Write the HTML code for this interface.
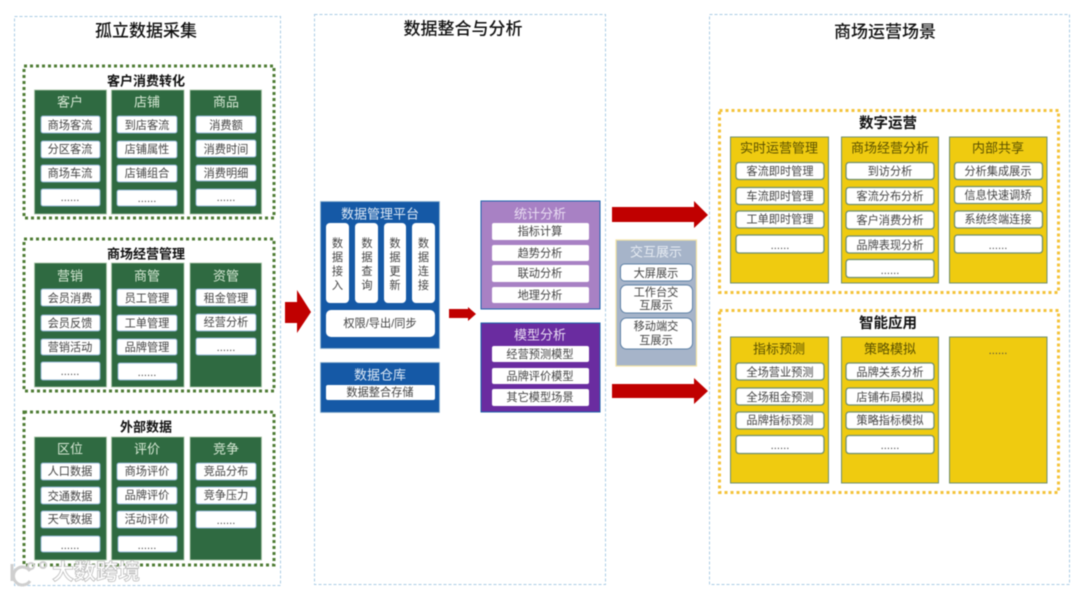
<!DOCTYPE html>
<html lang="zh">
<head>
<meta charset="utf-8">
<title>商场数据架构</title>
<style>
html,body{margin:0;padding:0;background:#fff;width:1080px;height:592px;overflow:hidden}
svg{display:block;filter:blur(.5px)}
text{font-family:"Liberation Sans","Noto Sans CJK SC",sans-serif;text-anchor:middle;dominant-baseline:central;transform:translateY(1px)}
.panel{fill:#fff;stroke:#a9cbe4;stroke-width:1;stroke-dasharray:3 2}
.h1{font-size:17px;fill:#111;font-weight:500}
.h2{font-size:13px;fill:#111;font-weight:700}
.h3{font-size:14.5px;fill:#111;font-weight:700}
.gd{fill:#fff;stroke:#4f7d35;stroke-width:3;stroke-dasharray:3 3}
.yd{fill:#fff;stroke:#f4c33c;stroke-width:3;stroke-dasharray:3 3}
.g{fill:#2f6a41;stroke:#a9c6a6;stroke-width:.8}
.gt{font-size:13px;fill:#d6e8d4}
.wg{fill:#fff;stroke:#8fb3d0;stroke-width:1}
.t{font-size:11.2px;fill:#444}
.y{fill:#efcb10;stroke:#6f8f70;stroke-width:1}
.yt{font-size:13px;fill:#5c5200}
.wy{fill:#fff;stroke:#6f8f70;stroke-width:1.3}
.bl{fill:#1559a6;stroke:#8fb3d0;stroke-width:.8}
.lt{font-size:13px;fill:#dce8f5}
.w{fill:#fff}
.a{fill:#c00000}
</style>
</head>
<body>
<svg width="1080" height="592" viewBox="0 0 1080 592" xmlns="http://www.w3.org/2000/svg">
<rect x="14.5" y="16.5" width="266" height="569" class="panel"/>
<rect x="314.5" y="14.5" width="291" height="570" class="panel"/>
<rect x="709.5" y="14.5" width="360" height="570" class="panel"/>
<text x="146" y="30" class="h1">孤立数据采集</text>
<text x="463" y="28" class="h1">数据整合与分析</text>
<text x="885" y="31" class="h1">商场运营场景</text>

<!-- Box 1 -->
<rect x="24" y="66" width="250" height="152" class="gd"/>
<text x="146" y="80" class="h2">客户消费转化</text>
<rect x="34.500" y="90" width="72" height="124" class="g"/>
<rect x="111.500" y="90" width="72.500" height="124" class="g"/>
<rect x="190" y="90" width="71.500" height="124" class="g"/>
<text x="70" y="101" class="gt">客户</text><text x="147" y="101" class="gt">店铺</text><text x="226" y="101" class="gt">商品</text>
<rect x="41" y="116" width="59" height="17" rx="2" class="wg"/><text x="70" y="125" class="t">商场客流</text>
<rect x="41" y="141" width="59" height="17" rx="2" class="wg"/><text x="70" y="149" class="t">分区客流</text>
<rect x="41" y="165" width="59" height="17" rx="2" class="wg"/><text x="70" y="173" class="t">商场车流</text>
<rect x="41" y="189" width="59" height="17" rx="2" class="wg"/><text x="70" y="197" class="t">......</text>
<rect x="117" y="116" width="60" height="17" rx="2" class="wg"/><text x="147" y="125" class="t">到店客流</text>
<rect x="117" y="141" width="60" height="17" rx="2" class="wg"/><text x="147" y="149" class="t">店铺属性</text>
<rect x="117" y="165" width="60" height="17" rx="2" class="wg"/><text x="147" y="173" class="t">店铺组合</text>
<rect x="117" y="190" width="60" height="16" rx="2" class="wg"/><text x="147" y="198" class="t">......</text>
<rect x="196" y="116" width="60" height="17" rx="2" class="wg"/><text x="226" y="125" class="t">消费额</text>
<rect x="196" y="140" width="60" height="17" rx="2" class="wg"/><text x="226" y="149" class="t">消费时间</text>
<rect x="196" y="165" width="60" height="16" rx="2" class="wg"/><text x="226" y="173" class="t">消费明细</text>
<rect x="196" y="189" width="60" height="17" rx="2" class="wg"/><text x="226" y="197" class="t">......</text>

<!-- Box 2 -->
<rect x="24" y="239" width="250" height="152" class="gd"/>
<text x="146" y="253" class="h2">商场经营管理</text>
<rect x="34.500" y="263" width="72" height="124" class="g"/>
<rect x="111.500" y="263" width="72.500" height="124" class="g"/>
<rect x="190" y="263" width="71.500" height="124" class="g"/>
<text x="70" y="275" class="gt">营销</text><text x="147" y="275" class="gt">商管</text><text x="226" y="275" class="gt">资管</text>
<rect x="41" y="289" width="59" height="17" rx="2" class="wg"/><text x="70" y="298" class="t">会员消费</text>
<rect x="41" y="315" width="59" height="16" rx="2" class="wg"/><text x="70" y="323" class="t">会员反馈</text>
<rect x="41" y="339" width="59" height="16" rx="2" class="wg"/><text x="70" y="347" class="t">营销活动</text>
<rect x="41" y="362" width="59" height="18" rx="2" class="wg"/><text x="70" y="371" class="t">......</text>
<rect x="117" y="289" width="60" height="17" rx="2" class="wg"/><text x="147" y="298" class="t">员工管理</text>
<rect x="117" y="315" width="60" height="16" rx="2" class="wg"/><text x="147" y="323" class="t">工单管理</text>
<rect x="117" y="339" width="60" height="16" rx="2" class="wg"/><text x="147" y="347" class="t">品牌管理</text>
<rect x="118" y="363" width="59" height="17" rx="2" class="wg"/><text x="147" y="372" class="t">......</text>
<rect x="196" y="289" width="60" height="17" rx="2" class="wg"/><text x="226" y="298" class="t">租金管理</text>
<rect x="196" y="314" width="60" height="17" rx="2" class="wg"/><text x="226" y="322" class="t">经营分析</text>
<rect x="196" y="338" width="60" height="17" rx="2" class="wg"/><text x="226" y="347" class="t">......</text>

<!-- Box 3 -->
<rect x="24" y="412" width="250" height="153" class="gd"/>
<text x="146" y="426" class="h2">外部数据</text>
<rect x="34.500" y="437" width="72" height="123" class="g"/>
<rect x="111.500" y="437" width="72.500" height="123" class="g"/>
<rect x="190" y="437" width="71.500" height="123" class="g"/>
<text x="70" y="448" class="gt">区位</text><text x="147" y="448" class="gt">评价</text><text x="226" y="448" class="gt">竞争</text>
<rect x="41" y="463" width="59" height="17" rx="2" class="wg"/><text x="70" y="471" class="t">人口数据</text>
<rect x="41" y="487" width="59" height="17" rx="2" class="wg"/><text x="70" y="496" class="t">交通数据</text>
<rect x="41" y="511" width="59" height="17" rx="2" class="wg"/><text x="70" y="519" class="t">天气数据</text>
<rect x="41" y="536" width="59" height="16" rx="2" class="wg"/><text x="70" y="545" class="t">......</text>
<rect x="117" y="463" width="60" height="17" rx="2" class="wg"/><text x="147" y="471" class="t">商场评价</text>
<rect x="117" y="487" width="60" height="17" rx="2" class="wg"/><text x="147" y="495" class="t">品牌评价</text>
<rect x="117" y="511" width="60" height="17" rx="2" class="wg"/><text x="147" y="519" class="t">活动评价</text>
<rect x="118" y="536" width="59" height="16" rx="2" class="wg"/><text x="147" y="545" class="t">......</text>
<rect x="196" y="463" width="60" height="17" rx="2" class="wg"/><text x="226" y="471" class="t">竞品分布</text>
<rect x="196" y="487" width="60" height="17" rx="2" class="wg"/><text x="226" y="495" class="t">竞争压力</text>
<rect x="196" y="511" width="60" height="17" rx="2" class="wg"/><text x="226" y="520" class="t">......</text>

<!-- Arrows -->
<polygon class="a" points="285,302 297,302 297,290 311,312 297,333 297,323 285,323"/>
<polygon class="a" points="449,309 468,309 468,307 476,314 468,321 468,318 449,318"/>
<polygon class="a" points="612,207 694,207 694,201 708,215 694,228 694,222 612,222"/>
<polygon class="a" points="612,384 694,384 694,378 708,391 694,404 694,398 612,398"/>

<!-- Platform -->
<rect x="320.500" y="201.500" width="119" height="147" class="bl"/>
<text x="380" y="213" style="font-size:13px;fill:#dce8f5">数据管理平台</text>
<rect x="326" y="223" width="23" height="80" rx="4" class="w"/>
<rect x="355" y="223" width="23" height="80" rx="4" class="w"/>
<rect x="384" y="223" width="22" height="80" rx="4" class="w"/>
<rect x="412" y="223" width="23" height="80" rx="4" class="w"/>
<text class="t"><tspan x="337.500" y="243">数</tspan><tspan x="337.500" y="257">据</tspan><tspan x="337.500" y="271">接</tspan><tspan x="337.500" y="285">入</tspan></text>
<text class="t"><tspan x="367" y="243">数</tspan><tspan x="367" y="257">据</tspan><tspan x="367" y="271">查</tspan><tspan x="367" y="285">询</tspan></text>
<text class="t"><tspan x="395" y="243">数</tspan><tspan x="395" y="257">据</tspan><tspan x="395" y="271">更</tspan><tspan x="395" y="285">新</tspan></text>
<text class="t"><tspan x="423.500" y="243">数</tspan><tspan x="423.500" y="257">据</tspan><tspan x="423.500" y="271">连</tspan><tspan x="423.500" y="285">接</tspan></text>
<rect x="326" y="310" width="109" height="27" rx="5" class="w"/>
<text x="380" y="323" class="t">权限/导出/同步</text>
<rect x="320.500" y="362.500" width="119" height="50" class="bl"/>
<text x="380" y="374" class="lt">数据仓库</text>
<rect x="326" y="385" width="109" height="15" rx="2" class="w"/>
<text x="380" y="392" class="t">数据整合存储</text>

<!-- Analysis -->
<rect x="481" y="201" width="119" height="108" style="fill:#a881c4;stroke:#1f63ab;stroke-width:1"/>
<text x="540" y="213" style="font-size:13px;fill:#e8dcf2">统计分析</text>
<rect x="492" y="223" width="97" height="17" rx="2" class="w"/><text x="540" y="231" class="t">指标计算</text>
<rect x="492" y="245" width="97" height="16" rx="2" class="w"/><text x="540" y="253" class="t">趋势分析</text>
<rect x="492" y="265" width="97" height="17" rx="2" class="w"/><text x="540" y="273" class="t">联动分析</text>
<rect x="492" y="287" width="97" height="16" rx="2" class="w"/><text x="540" y="295" class="t">地理分析</text>
<rect x="481" y="323" width="119" height="89" style="fill:#6a2ca0;stroke:#1f63ab;stroke-width:1"/>
<text x="540" y="334" style="font-size:13px;fill:#e8dcf2">模型分析</text>
<rect x="492" y="346" width="97" height="16" rx="2" class="w"/><text x="540" y="354" class="t">经营预测模型</text>
<rect x="492" y="368" width="97" height="16" rx="2" class="w"/><text x="540" y="376" class="t">品牌评价模型</text>
<rect x="492" y="389" width="97" height="17" rx="2" class="w"/><text x="540" y="397" class="t">其它模型场景</text>

<!-- Interaction -->
<rect x="616" y="240" width="80.500" height="126" style="fill:#a6b4c9;stroke:#f3e3a4;stroke-width:1.2"/>
<text x="656" y="251" style="font-size:13px;fill:#e6ebf2">交互展示</text>
<rect x="620.500" y="264" width="72" height="17" rx="4" style="fill:#fff;stroke:#5e81a6;stroke-width:1"/>
<text x="656" y="273" class="t">大屏展示</text>
<rect x="620.500" y="285" width="72" height="28" rx="6" style="fill:#fff;stroke:#5e81a6;stroke-width:1"/>
<text x="656" y="292" class="t">工作台交</text><text x="656" y="305" class="t">互展示</text>
<rect x="620.500" y="318" width="72" height="31" rx="6" style="fill:#fff;stroke:#5e81a6;stroke-width:1"/>
<text x="656" y="326" class="t">移动端交</text><text x="656" y="340" class="t">互展示</text>

<!-- Digital operations -->
<rect x="719.500" y="110.500" width="339" height="182" class="yd"/>
<text x="888" y="123" class="h3">数字运营</text>
<rect x="730.500" y="137" width="98" height="146" class="y"/>
<rect x="841.500" y="137" width="97" height="146" class="y"/>
<rect x="949.500" y="137" width="97.500" height="146" class="y"/>
<text x="779" y="147" class="yt">实时运营管理</text><text x="890" y="147" class="yt">商场经营分析</text><text x="998" y="147" class="yt">内部共享</text>
<rect x="736" y="162.500" width="88" height="17" rx="3" class="wy"/><text x="780" y="171" class="t">客流即时管理</text>
<rect x="736" y="187.500" width="88" height="17" rx="3" class="wy"/><text x="780" y="196" class="t">车流即时管理</text>
<rect x="736" y="211" width="88" height="17" rx="3" class="wy"/><text x="780" y="219" class="t">工单即时管理</text>
<rect x="736" y="235" width="88" height="18" rx="3" class="wy"/><text x="780" y="245" class="t">......</text>
<rect x="846" y="162.500" width="88" height="17" rx="3" class="wy"/><text x="890" y="171" class="t">到访分析</text>
<rect x="846" y="187.500" width="88" height="17" rx="3" class="wy"/><text x="890" y="196" class="t">客流分布分析</text>
<rect x="846" y="211" width="88" height="18" rx="3" class="wy"/><text x="890" y="220" class="t">客户消费分析</text>
<rect x="846" y="236" width="88" height="17" rx="3" class="wy"/><text x="890" y="245" class="t">品牌表现分析</text>
<rect x="846" y="259.500" width="88" height="18" rx="3" class="wy"/><text x="890" y="270" class="t">......</text>
<rect x="954.500" y="162.500" width="88" height="17" rx="3" class="wy"/><text x="998" y="171" class="t">分析集成展示</text>
<rect x="954.500" y="186.500" width="88" height="17" rx="3" class="wy"/><text x="998" y="195" class="t">信息快速调矫</text>
<rect x="954.500" y="211" width="88" height="17" rx="3" class="wy"/><text x="998" y="219" class="t">系统终端连接</text>
<rect x="954.500" y="235" width="88" height="18" rx="3" class="wy"/><text x="998" y="245" class="t">......</text>

<!-- Smart applications -->
<rect x="719.500" y="310.500" width="339" height="182" class="yd"/>
<text x="888" y="323" class="h3">智能应用</text>
<rect x="730.500" y="337" width="98" height="146" class="y"/>
<rect x="841.500" y="337" width="97" height="146" class="y"/>
<rect x="949.500" y="337" width="97.500" height="146" class="y"/>
<text x="779" y="348" class="yt">指标预测</text><text x="890" y="348" class="yt">策略模拟</text><text x="998" y="350" class="t">......</text>
<rect x="736" y="363" width="88" height="17" rx="3" class="wy"/><text x="780" y="372" class="t">全场营业预测</text>
<rect x="736" y="388" width="88" height="17" rx="3" class="wy"/><text x="780" y="397" class="t">全场租金预测</text>
<rect x="736" y="412" width="88" height="17" rx="3" class="wy"/><text x="780" y="420" class="t">品牌指标预测</text>
<rect x="736" y="435.500" width="88" height="18" rx="3" class="wy"/><text x="780" y="445" class="t">......</text>
<rect x="846" y="363" width="88" height="17" rx="3" class="wy"/><text x="890" y="372" class="t">品牌关系分析</text>
<rect x="846" y="388" width="88" height="17" rx="3" class="wy"/><text x="890" y="397" class="t">店铺布局模拟</text>
<rect x="846" y="412" width="88" height="17" rx="3" class="wy"/><text x="890" y="420" class="t">策略指标模拟</text>
<rect x="846" y="435.500" width="88" height="18" rx="3" class="wy"/><text x="890" y="445" class="t">......</text>

<!-- Watermark -->
<circle cx="31" cy="566" r="3" style="fill:none;stroke:#cfcfcf;stroke-width:2"/>
<circle cx="43" cy="565" r="3" style="fill:none;stroke:#cfcfcf;stroke-width:2"/>
<path d="M12 564 L12 581 M30 571 A9 9 0 1 0 30 581" style="fill:none;stroke:#cfcfcf;stroke-width:3"/>
<text x="96" y="571" style="font-size:22px;font-weight:700;fill:#fff;stroke:#bdbdbd;stroke-width:.8">大数跨境</text>
</svg>
</body>
</html>
